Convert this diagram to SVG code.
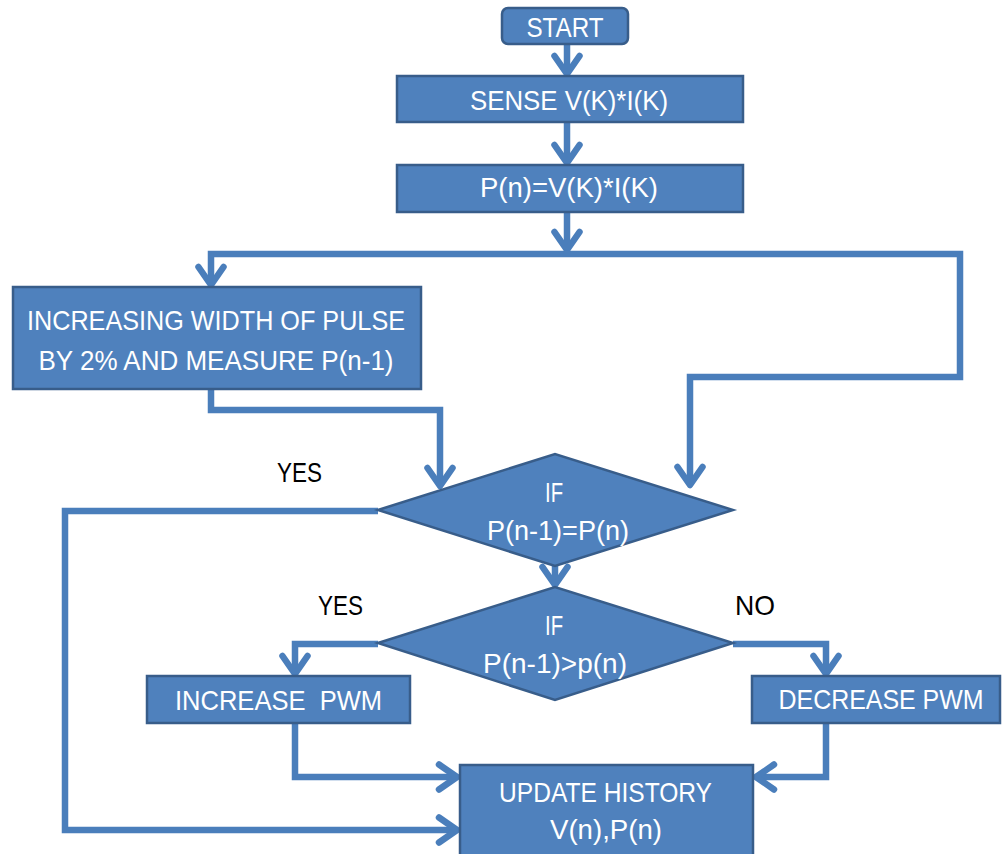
<svg xmlns="http://www.w3.org/2000/svg" width="1004" height="854" viewBox="0 0 1004 854">
<defs>
<style>
.box{fill:#4F81BD;stroke:#385D8A;stroke-width:2.5}
.t{fill:#FFFFFF;font-family:"Liberation Sans",Arial,sans-serif;font-size:28px;text-anchor:middle}
.lbl{fill:#000000;font-family:"Liberation Sans",Arial,sans-serif;font-size:28px;text-anchor:middle}
.c{fill:none;stroke:#4A7EBB;stroke-width:6.5;stroke-linejoin:miter}
</style>
<marker id="ah" markerUnits="userSpaceOnUse" viewBox="-24 -18 28 36" refX="0" refY="0" markerWidth="28" markerHeight="36" orient="auto">
<path d="M-18,-12.5 L0,0 L-18,12.5" fill="none" stroke="#4A7EBB" stroke-width="6.5" stroke-linecap="round" stroke-linejoin="round"/>
</marker>
</defs>
<rect width="1004" height="854" fill="#FFFFFF"/>
<g id="connectors">
<path class="c" d="M567,44 V74" marker-end="url(#ah)"/>
<path class="c" d="M567,122 V163" marker-end="url(#ah)"/>
<path class="c" d="M567,212 V250" marker-end="url(#ah)"/>
<path class="c" d="M567,254 H211 V285" marker-end="url(#ah)"/>
<path class="c" d="M567,254 H960 V377 H690 V485" marker-end="url(#ah)"/>
<path class="c" d="M211,389 V410 H440 V486" marker-end="url(#ah)"/>
<path class="c" d="M378,511 H65 V830 H457" marker-end="url(#ah)"/>
<path class="c" d="M555,560 V585" marker-end="url(#ah)"/>
<path class="c" d="M378,644 H295 V674" marker-end="url(#ah)"/>
<path class="c" d="M733,644 H826 V674" marker-end="url(#ah)"/>
<path class="c" d="M295,723 V777 H457" marker-end="url(#ah)"/>
<path class="c" d="M826,723 V777 H756" marker-end="url(#ah)"/>
</g>
<g id="start">
<rect class="box" x="502" y="8" width="126" height="36" rx="6"/>
<text class="t" x="565" y="37" textLength="77" lengthAdjust="spacingAndGlyphs">START</text>
</g>
<g id="sense">
<rect class="box" x="397" y="76" width="346" height="46"/>
<text class="t" x="569" y="110" textLength="198" lengthAdjust="spacingAndGlyphs">SENSE V(K)*I(K)</text>
</g>
<g id="power">
<rect class="box" x="397" y="165" width="346" height="47"/>
<text class="t" x="569" y="197" textLength="178" lengthAdjust="spacingAndGlyphs">P(n)=V(K)*I(K)</text>
</g>
<g id="increasing-width">
<rect class="box" x="13" y="287" width="408" height="102"/>
<text class="t" x="216" y="330" textLength="378" lengthAdjust="spacingAndGlyphs">INCREASING WIDTH OF PULSE</text>
<text class="t" x="216" y="370" textLength="355" lengthAdjust="spacingAndGlyphs">BY 2% AND MEASURE P(n-1)</text>
</g>
<g id="decision-equal">
<polygon class="box" points="378,510 555,454 733,510 555,566"/>
<text class="t" x="554" y="502" textLength="18" lengthAdjust="spacingAndGlyphs">IF</text>
<text class="t" x="558" y="540" textLength="142" lengthAdjust="spacingAndGlyphs">P(n-1)=P(n)</text>
</g>
<g id="decision-greater">
<polygon class="box" points="378,643 555,587 733,643 555,700"/>
<text class="t" x="554" y="635" textLength="18" lengthAdjust="spacingAndGlyphs">IF</text>
<text class="t" x="555" y="673" textLength="144" lengthAdjust="spacingAndGlyphs">P(n-1)&gt;p(n)</text>
</g>
<g id="increase-pwm">
<rect class="box" x="147" y="676" width="263" height="47"/>
<text class="t" x="278.5" y="710" textLength="207" lengthAdjust="spacingAndGlyphs" xml:space="preserve">INCREASE  PWM</text>
</g>
<g id="decrease-pwm">
<rect class="box" x="752" y="676" width="248" height="47"/>
<text class="t" x="881" y="709" font-size="27" textLength="205" lengthAdjust="spacingAndGlyphs">DECREASE PWM</text>
</g>
<g id="update-history">
<rect class="box" x="460" y="765" width="293" height="100"/>
<text class="t" x="605.5" y="802" textLength="213" lengthAdjust="spacingAndGlyphs">UPDATE HISTORY</text>
<text class="t" x="606" y="839" textLength="112" lengthAdjust="spacingAndGlyphs">V(n),P(n)</text>
</g>
<g id="labels">
<text class="lbl" x="299.5" y="482" textLength="45" lengthAdjust="spacingAndGlyphs">YES</text>
<text class="lbl" x="340.5" y="615" textLength="45" lengthAdjust="spacingAndGlyphs">YES</text>
<text class="lbl" x="755" y="615" textLength="40" lengthAdjust="spacingAndGlyphs">NO</text>
</g>
</svg>
